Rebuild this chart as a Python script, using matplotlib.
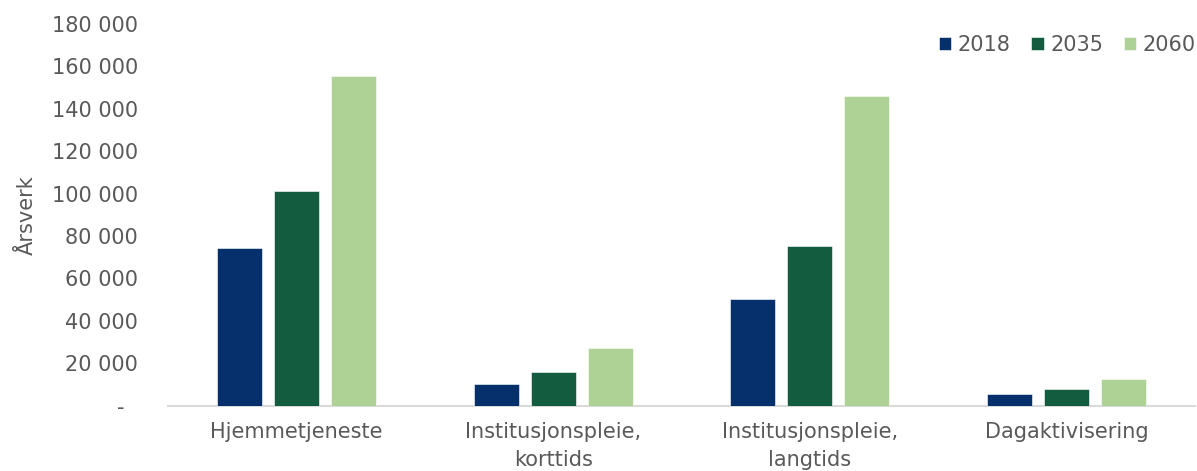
import matplotlib

matplotlib.use("Agg")
import matplotlib.pyplot as plt
import numpy as np

CATEGORIES = ["Hjemmetjeneste", "Institusjonspleie,\nkorttids",
              "Institusjonspleie,\nlangtids", "Dagaktivisering"]
YEARS = ["2018", "2035", "2060"]
VALUES = {
    "2018": [74200, 10200, 50300, 5500],
    "2035": [101500, 15900, 75300, 7900],
    "2060": [155300, 27200, 146100, 12600],
}
COLORS = {"2018": "#06306B", "2035": "#145C40", "2060": "#AED296"}
Y_TICKS = list(range(0, 180001, 20000))

TEXT = "#595959"

plt.rcParams.update({"font.family": "DejaVu Sans", "font.size": 15})

fig = plt.figure(figsize=(11.97, 4.71), dpi=100)
ax = fig.add_axes([168 / 1197, 1 - 405.7 / 471, 1027 / 1197, 381.6 / 471])

x = np.arange(len(CATEGORIES))
width = 0.175
step = 0.222
for i, year in enumerate(YEARS):
    ax.bar(x + (i - 1) * step, VALUES[year], width=width, color=COLORS[year],
           edgecolor="white", linewidth=0.4, label=year, zorder=3)

ax.set_xlim(-0.5, len(CATEGORIES) - 0.5)
ax.set_ylim(0, 180000)
ax.set_yticks(Y_TICKS)
ax.set_yticklabels(["-  " if v == 0 else f"{v:,}".replace(",", " ") for v in Y_TICKS])
ax.set_xticks(x)
ax.set_xticklabels(CATEGORIES, linespacing=1.45)
ax.tick_params(axis="both", length=0, colors=TEXT, labelsize=15)
ax.tick_params(axis="y", pad=21.5)
ax.tick_params(axis="x", pad=12)
ax.set_ylabel("Årsverk", color=TEXT, fontsize=15, labelpad=11)

for side in ("top", "right", "left"):
    ax.spines[side].set_visible(False)
ax.spines["bottom"].set_color("#D9D9D9")
ax.spines["bottom"].set_linewidth(1.5)

leg = fig.legend(loc="center right", bbox_to_anchor=(0.999, 1 - 45 / 471),
                 ncol=3, frameon=False, borderpad=0, borderaxespad=0,
                 handlelength=0.6, handleheight=0.6, handletextpad=0.3,
                 columnspacing=1.0, fontsize=15)
for t in leg.get_texts():
    t.set_color(TEXT)

fig.savefig("out.png", dpi=100)
